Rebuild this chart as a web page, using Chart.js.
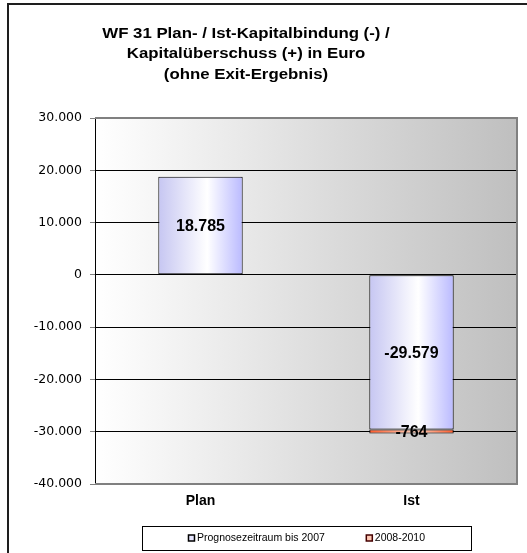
<!DOCTYPE html>
<html>
<head>
<meta charset="utf-8">
<script src="https://cdn.jsdelivr.net/npm/chart.js@4/dist/chart.umd.min.js"></script>
<style>
  html, body { margin: 0; padding: 0; background: #fff; }
  canvas { display: block; }
</style>
</head>
<body>
<canvas id="c" width="527" height="553"></canvas>
<script>
// Kategorien und Werte (Euro)
const categories = ['Plan', 'Ist'];
const seriesNames = ['Prognosezeitraum bis 2007', '2008-2010'];
const prognose = [18785, -29579];
const periode0810 = [null, -764];
const titleLines = ['WF 31 Plan- / Ist-Kapitalbindung (-) /', 'Kapitalüberschuss (+) in Euro', '(ohne Exit-Ergebnis)'];
const yMin = -40000, yMax = 30000, yStep = 10000;

// Zahlen im deutschen Format: 18.785, -29.579
function fmt(v) {
  const s = Math.abs(Math.round(v)).toString().replace(/\B(?=(\d{3})+(?!\d))/g, '.');
  return (v < 0 ? '-' : '') + s;
}

const BAR_PCT = 0.4;

// horizontaler Verlauf über die Breite eines Balkens
function barGradient(stops) {
  return function (ctx) {
    const chart = ctx.chart;
    const xs = chart.scales && chart.scales.x;
    if (!xs || !chart.chartArea) return stops[0][1];
    const cx = xs.getPixelForValue(ctx.dataIndex);
    const w = (xs.width / chart.data.labels.length) * BAR_PCT;
    const g = chart.ctx.createLinearGradient(cx - w / 2, 0, cx + w / 2, 0);
    stops.forEach(s => g.addColorStop(s[0], s[1]));
    return g;
  };
}

const lavender = [[0, '#c6c6f2'], [0.58, '#ffffff'], [1, '#babaff']];
const orange = [[0, '#ff5a2a'], [0.55, '#ffd2bd'], [1, '#ff5a2a']];

// Hintergrund des Diagrammbereichs, Rahmen, Titel, Werte und Legende
const decor = {
  id: 'decor',
  beforeDraw(chart) {
    const { ctx, chartArea: a } = chart;
    ctx.save();
    const g = ctx.createLinearGradient(a.left, 0, a.right, 0);
    g.addColorStop(0, '#ffffff');
    g.addColorStop(1, '#bfbfbf');
    ctx.fillStyle = g;
    ctx.fillRect(a.left, a.top, a.right - a.left, a.bottom - a.top);
    ctx.restore();
  },
  beforeDatasetsDraw(chart) {
    const { ctx, chartArea: a } = chart;
    ctx.save();
    ctx.strokeStyle = '#808080';
    ctx.lineWidth = 2;
    ctx.beginPath();
    ctx.moveTo(a.left, a.top);
    ctx.lineTo(a.right, a.top);
    ctx.lineTo(a.right, a.bottom);
    ctx.lineTo(a.left, a.bottom);
    ctx.stroke();
    ctx.restore();
  },
  afterDatasetsDraw(chart) {
    const ctx = chart.ctx;
    ctx.save();
    ctx.font = 'bold 16px "Liberation Sans", Arial, sans-serif';
    ctx.fillStyle = '#000';
    ctx.textAlign = 'center';
    ctx.textBaseline = 'middle';
    chart.data.datasets.forEach((ds, di) => {
      const meta = chart.getDatasetMeta(di);
      meta.data.forEach((el, i) => {
        const v = ds.data[i];
        if (v === null || v === undefined) return;
        const p = el.getProps(['x', 'y', 'base'], true);
        ctx.fillText(fmt(v), p.x, (p.y + p.base) / 2 + 1);
      });
    });
    ctx.restore();
  },
  afterDraw(chart) {
    const { ctx, chartArea: a } = chart;
    ctx.save();
    // äußerer Rahmen
    ctx.strokeStyle = '#1e1e1e';
    ctx.lineWidth = 2;
    ctx.beginPath();
    ctx.moveTo(8, chart.height);
    ctx.lineTo(8, 4);
    ctx.lineTo(chart.width, 4);
    ctx.stroke();

    // Titel
    ctx.fillStyle = '#000';
    ctx.font = 'bold 14px "Liberation Sans", Arial, sans-serif';
    ctx.textAlign = 'center';
    ctx.textBaseline = 'middle';
    const tx = 246, sx = 1.2;
    titleLines.forEach((t, i) => {
      ctx.save();
      ctx.translate(tx, 34 + i * 20.5);
      ctx.scale(sx, 1);
      ctx.fillText(t, 0, 0);
      ctx.restore();
    });

    // Legende
    const cx = (a.left + a.right) / 2;
    const boxW = 329, boxTop = 526.5, boxH = 24;
    ctx.strokeStyle = '#000';
    ctx.lineWidth = 1;
    ctx.strokeRect(Math.round(cx - boxW / 2) + 0.5, boxTop, boxW, boxH);
    ctx.font = '10.5px "Liberation Sans", Arial, sans-serif';
    ctx.textAlign = 'left';
    const marker = 6, gapText = 2, gapItem = 42;
    const widths = seriesNames.map(n => marker + gapText + ctx.measureText(n).width);
    const total = widths[0] + gapItem + widths[1];
    let x = cx - total / 2;
    const my = boxTop + boxH / 2;
    const fills = ['#e6e6ff', '#ffc8b4'];
    const strokes = ['#000', '#400'];
    seriesNames.forEach((n, i) => {
      ctx.fillStyle = fills[i];
      ctx.fillRect(x + 0.5, my - 3.5, marker, marker);
      ctx.strokeStyle = strokes[i];
      ctx.lineWidth = 1.5;
      ctx.strokeRect(x + 0.5, my - 3.5, marker, marker);
      ctx.fillStyle = '#000';
      ctx.fillText(n, x + marker + gapText + 1, my);
      x += widths[i] + gapItem;
    });
    ctx.restore();
  }
};

new Chart(document.getElementById('c'), {
  type: 'bar',
  data: {
    labels: categories,
    datasets: [
      {
        label: seriesNames[0],
        data: prognose,
        backgroundColor: barGradient(lavender),
        borderColor: '#000',
        borderWidth: 1,
        borderSkipped: false,
        barPercentage: BAR_PCT,
        categoryPercentage: 1
      },
      {
        label: seriesNames[1],
        data: periode0810,
        backgroundColor: barGradient(orange),
        borderColor: '#000',
        borderWidth: 1,
        borderSkipped: false,
        barPercentage: BAR_PCT,
        categoryPercentage: 1
      }
    ]
  },
  options: {
    responsive: false,
    devicePixelRatio: 1,
    animation: false,
    layout: { padding: { top: 118, right: 10, left: 0, bottom: 0 } },
    plugins: {
      legend: { display: false },
      title: { display: false },
      tooltip: { enabled: false }
    },
    scales: {
      x: {
        stacked: true,
        grid: { display: false, drawTicks: false },
        border: { display: false },
        ticks: {
          color: '#000',
          padding: 9,
          font: { family: '"Liberation Sans", Arial, sans-serif', size: 14, weight: 'bold' }
        },
        afterFit(scale) { scale.height = 69; }
      },
      y: {
        stacked: true,
        min: yMin,
        max: yMax,
        ticks: {
          stepSize: yStep,
          color: '#000',
          padding: 8,
          font: { family: '"DejaVu Sans", sans-serif', size: 12.5 },
          callback: v => fmt(v)
        },
        grid: {
          color: c => (c.tick && (c.tick.value === yMax || c.tick.value === yMin)) ? 'rgba(0,0,0,0)' : '#000',
          tickColor: '#808080',
          tickLength: 5,
          lineWidth: 1
        },
        border: { display: true, color: '#000', width: 1 },
        afterFit(scale) { scale.width = 95; }
      }
    }
  },
  plugins: [decor]
});
</script>
</body>
</html>
